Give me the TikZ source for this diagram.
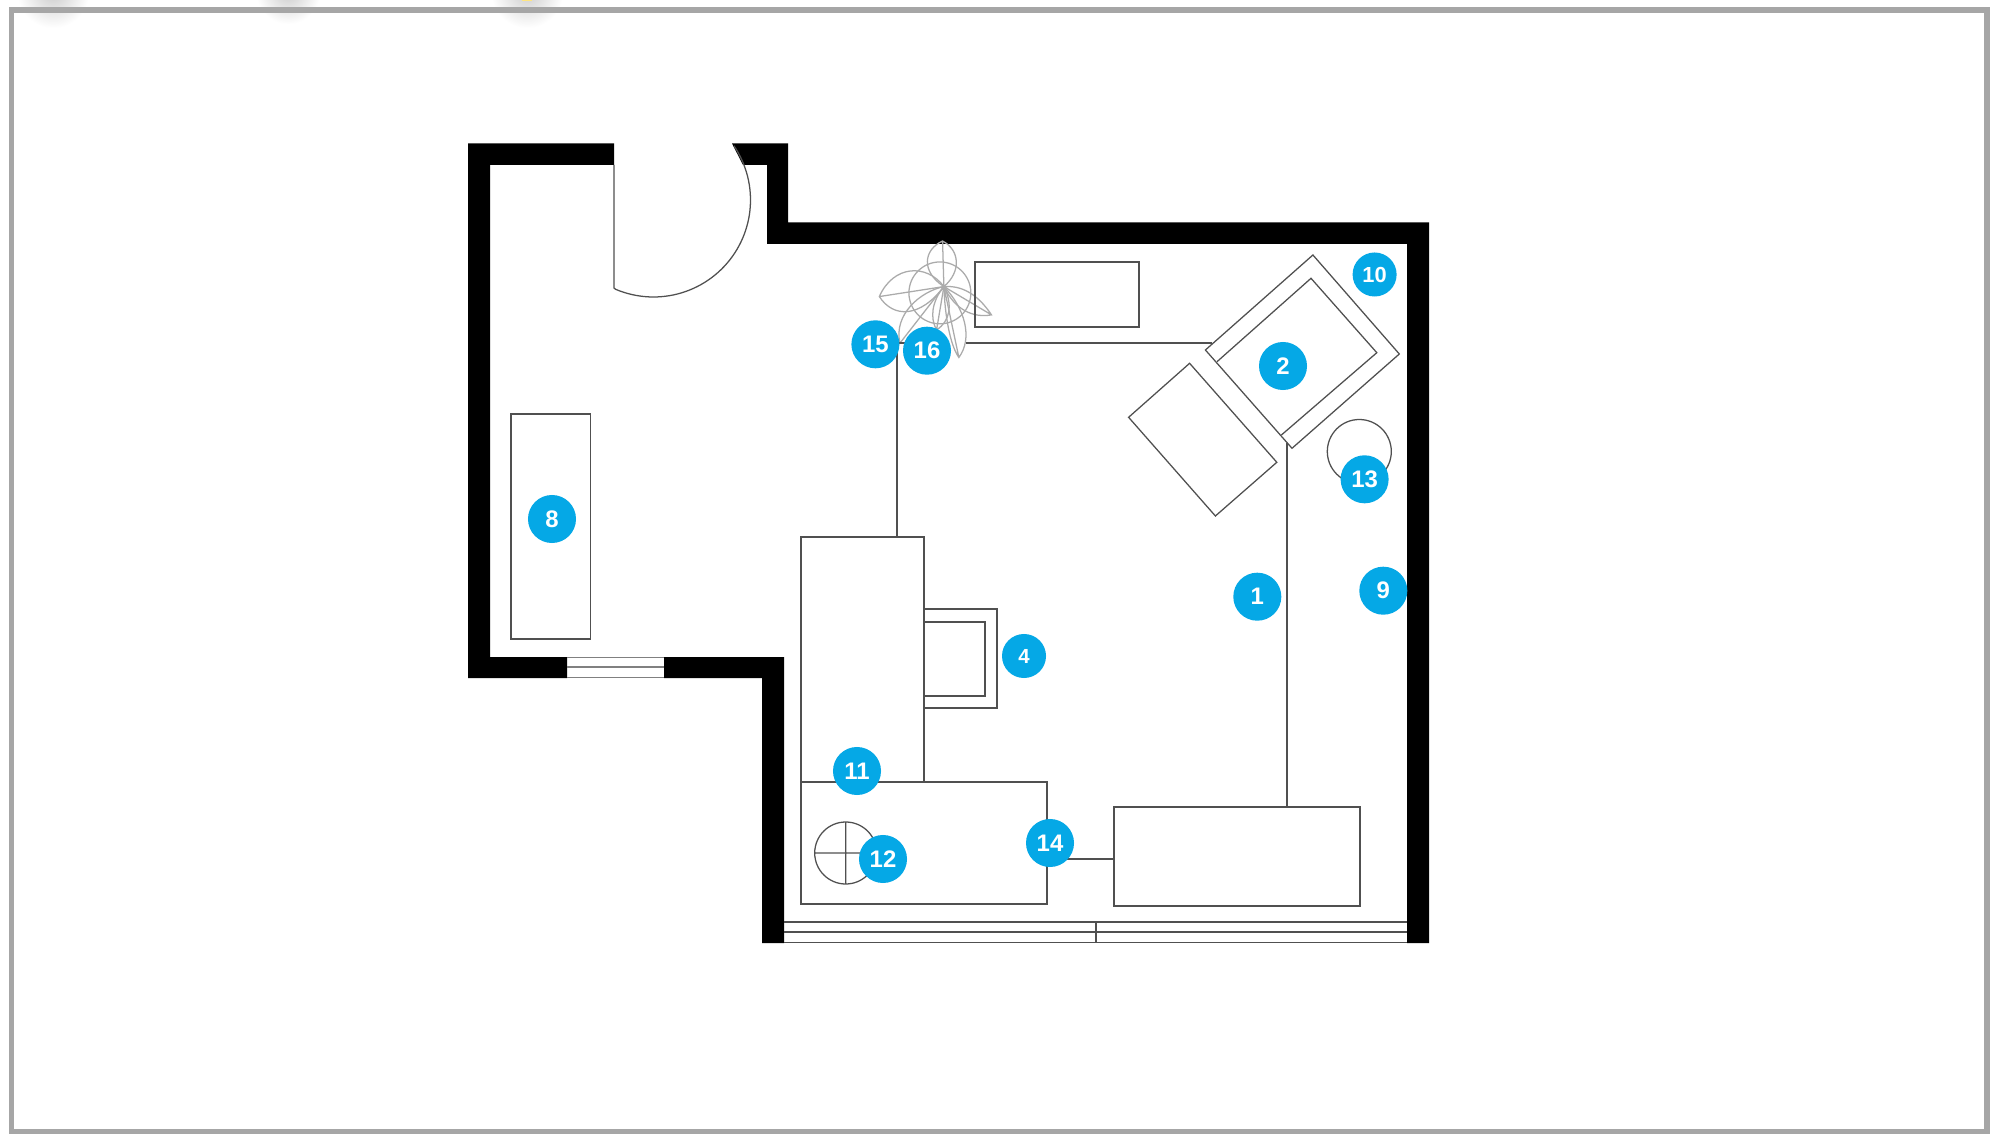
\documentclass[tikz,border=0pt]{standalone}
\usepackage{fontspec}
\setmainfont{Liberation Sans}
\definecolor{badgeblue}{HTML}{05A8E6}
\definecolor{framegray}{HTML}{A6A6A6}
\definecolor{linegray}{HTML}{505050}
\definecolor{leafgray}{HTML}{ABABAB}
\tikzset{
  wall/.style={fill=black,draw=none},
  thinline/.style={draw=linegray,line width=0.36pt,line join=miter},
  leaf/.style={draw=leafgray,line width=0.36pt},
  badge/.style={circle,fill=badgeblue,text=white,inner sep=0pt,minimum size=4.8mm,
    font=\fontsize{6.8}{8}\selectfont\bfseries},
  badgesmall/.style={badge,minimum size=4.4mm,font=\fontsize{6.2}{8}\selectfont\bfseries},
  blot/.style={inner color=gray!40,outer color=white}
}
\begin{document}
\begin{tikzpicture}[x=0.01cm,y=-0.01cm]
\useasboundingbox (0,0) rectangle (2000,1143);
\clip (0,0) rectangle (2000,1143);
\fill[white] (0,0) rectangle (2000,1143);
% faint blots at the top edge
\shade[blot] (53,-8) circle[radius=36];
\shade[blot] (288,-8) circle[radius=32];
\shade[blot] (527,-8) circle[radius=36];
\fill[orange!40!yellow!50!white] (522,0) rectangle (532,1.2);
% frame
\draw[framegray,line width=1.5pt] (11.5,10) rectangle (1987,1131.5);
% walls
\fill[wall] (468,143.5) -- (614,143.5) -- (614,165) -- (490,165) -- (490,657) -- (567,657) -- (567,678) -- (468,678) -- cycle;
\fill[wall] (664,657) -- (784,657) -- (784,943) -- (762,943) -- (762,678) -- (664,678) -- cycle;
\fill[wall] (732,143.5) -- (788,143.5) -- (788,222.5) -- (1429,222.5) -- (1429,943) -- (1407,943) -- (1407,244) -- (767,244) -- (767,165) -- (743,165) -- cycle;
% door
\draw[thinline] (614,165) -- (614,288)
  -- plot[domain=113:-34,samples=60] ({653.5+97*cos(\x)},{200+97*sin(\x)});
% window left
\draw[thinline,draw=gray] (567,657.5) -- (664,657.5) (567,667) -- (664,667) (567,677.5) -- (664,677.5);
% window bottom
\draw[thinline] (784,922) -- (1407,922) (784,932) -- (1407,932) (784,942.5) -- (1407,942.5) (1096,922) -- (1096,942.5);
% plant
\begin{scope}[shift={(870,235)},x=0.003333cm,y=-0.003333cm]
  \draw[leaf] (222,155) .. controls (153,110) and (160,45) .. (218,18)
     .. controls (270,45) and (275,110) .. (222,155) -- (218,18);
  \draw[leaf] (210,174) circle[radius=93];
  \draw[leaf] (222,155) .. controls (170,85) and (70,90) .. (28,185)
     .. controls (70,250) and (150,250) .. (222,155) -- (28,185);
  \draw[leaf] (222,155) .. controls (290,150) and (335,195) .. (365,240)
     .. controls (310,250) and (255,225) .. (222,155) -- (365,240);
  \draw[leaf] (222,155) .. controls (285,220) and (310,310) .. (267,368)
     .. controls (240,330) and (225,240) .. (222,155) -- (267,368);
  \draw[leaf] (222,155) .. controls (185,200) and (180,250) .. (200,285)
     .. controls (240,260) and (250,210) .. (222,155) -- (200,285);
  \draw[leaf] (222,155) .. controls (150,170) and (70,240) .. (90,325) -- (222,155);
\end{scope}
% furniture
\draw[thinline] (511,414) rectangle (590.5,639);
\draw[thinline] (975,262) rectangle (1139,327);
\draw[thinline] (966,343) -- (1212,343);
\draw[thinline] (897,343) -- (906,343);
\draw[thinline] (897,343) -- (897,537);
\draw[thinline] (801,537) rectangle (924,782);
\draw[thinline] (924,609) -- (997,609) -- (997,708) -- (924,708);
\draw[thinline] (924,622) -- (985,622) -- (985,696) -- (924,696);
\draw[thinline] (801,782) rectangle (1047,904);
\draw[thinline] (845.7,853) circle[radius=31] (814.7,853) -- (876.7,853) (845.7,822) -- (845.7,884);
\draw[thinline] (1047,859) -- (1114,859);
\draw[thinline] (1114,807) rectangle (1360,906);
\draw[thinline] (1287,807) -- (1287,443);
\draw[thinline] (1312.9,255) -- (1399.3,354) -- (1292,448.3) -- (1205.4,350) -- cycle;
\draw[thinline] (1217,361.7) -- (1311,278.3) -- (1376.8,352.7) -- (1281.4,435);
\draw[thinline] (1189.6,363.3) -- (1276.8,462.3) -- (1215.4,516) -- (1128.6,417.3) -- cycle;
\draw[thinline] (1359.3,451.5) circle[radius=32];
% badges
\node[badge] (n1) at (1257.3,596.7) {1};
\node[badge] (n2) at (1283,366) {2};
\node[badgesmall,font=\fontsize{5.8}{8}\selectfont\bfseries] (n4) at (1024,656) {4};
\node[badge] (n8) at (552,519) {8};
\node[badge] (n9) at (1383.3,590.7) {9};
\node[badgesmall] (n10) at (1374.6,274.5) {10};
\node[badge] (n11) at (857,771) {11};
\node[badge] (n12) at (883,859) {12};
\node[badge] (n13) at (1364.6,479.3) {13};
\node[badge] (n14) at (1050,843) {14};
\node[badge] (n15) at (875.4,344.3) {15};
\node[badge] (n16) at (927,350.7) {16};
\end{tikzpicture}
\end{document}
